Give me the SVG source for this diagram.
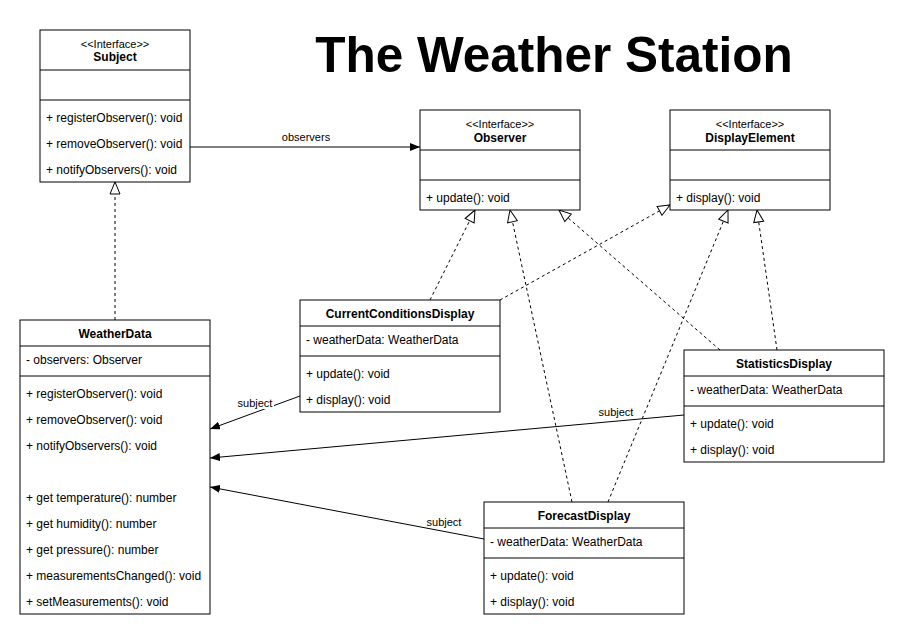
<svg xmlns="http://www.w3.org/2000/svg" width="905" height="638" viewBox="0 0 905 638">
  <style>
    .box { fill: #ffffff; stroke: #000000; stroke-width: 1; }
    .sep { stroke: #000000; stroke-width: 1; fill: none; }
    .t { font-family: "Liberation Sans", Arial, Helvetica, sans-serif; font-size: 12px; fill: #000000; }
    .st { font-family: "Liberation Sans", Arial, Helvetica, sans-serif; font-size: 11px; fill: #000000; text-anchor: middle; }
    .n { font-family: "Liberation Sans", Arial, Helvetica, sans-serif; font-size: 12px; font-weight: bold; fill: #000000; text-anchor: middle; }
    .lbl { font-family: "Liberation Sans", Arial, Helvetica, sans-serif; font-size: 11px; fill: #000000; text-anchor: middle; }
    .title { font-family: "Liberation Sans", Arial, Helvetica, sans-serif; font-size: 49.5px; font-weight: bold; fill: #000000; text-anchor: middle; }
    .assoc { stroke: #000000; stroke-width: 1; fill: none; marker-end: url(#arrow); }
    .real { stroke: #000000; stroke-width: 1; fill: none; stroke-dasharray: 3 3; marker-end: url(#hollow); }
  </style>
  <defs>
    <marker id="arrow" viewBox="0 0 10 8" refX="10" refY="4" markerWidth="10" markerHeight="8" orient="auto" markerUnits="userSpaceOnUse">
      <path d="M0,0 L10,4 L0,8 Z" fill="#000000" stroke="none"/>
    </marker>
    <marker id="hollow" viewBox="0 0 14 12" refX="13" refY="6" markerWidth="14" markerHeight="12" orient="auto" markerUnits="userSpaceOnUse">
      <path d="M1,1 L13,6 L1,11 Z" fill="#ffffff" stroke="#000000" stroke-width="1"/>
    </marker>
  </defs>

  <rect x="0" y="0" width="905" height="638" fill="#ffffff"/>

  <text class="title" x="554" y="72">The Weather Station</text>

  <g id="connectors">
    <path class="assoc" d="M190,147 L420,147"/>
    <text class="lbl" x="306" y="141">observers</text>

    <path class="real" d="M115,320 L115,182"/>

    <path class="real" d="M430,300 L475,210"/>
    <path class="real" d="M572,502 L510,210"/>
    <path class="real" d="M720,350 L559,210"/>
    <path class="real" d="M500,300 L670,205"/>
    <path class="real" d="M608,502 L728,210"/>
    <path class="real" d="M777,350 L757,210"/>

    <path class="assoc" d="M300,396 L210,429"/>
    <rect x="237" y="397" width="37" height="12" fill="#ffffff"/>
    <text class="lbl" x="255" y="407">subject</text>

    <path class="assoc" d="M684,415 L210,458"/>
    <text class="lbl" x="616" y="416">subject</text>

    <path class="assoc" d="M484,539 L210,487"/>
    <text class="lbl" x="444" y="526">subject</text>
  </g>

  <g id="Subject">
    <rect class="box" x="40" y="30" width="150" height="152"/>
    <line class="sep" x1="40" y1="70" x2="190" y2="70"/>
    <line class="sep" x1="40" y1="100" x2="190" y2="100"/>
    <text class="st" x="115" y="47.5">&lt;&lt;Interface&gt;&gt;</text>
    <text class="n" x="115" y="61">Subject</text>
    <text class="t" x="46" y="122">+ registerObserver(): void</text>
    <text class="t" x="46" y="148">+ removeObserver(): void</text>
    <text class="t" x="46" y="174">+ notifyObservers(): void</text>
  </g>

  <g id="Observer">
    <rect class="box" x="420" y="110" width="160" height="100"/>
    <line class="sep" x1="420" y1="150" x2="580" y2="150"/>
    <line class="sep" x1="420" y1="180" x2="580" y2="180"/>
    <text class="st" x="500" y="127.5">&lt;&lt;Interface&gt;&gt;</text>
    <text class="n" x="500" y="141.5">Observer</text>
    <text class="t" x="426" y="202">+ update(): void</text>
  </g>

  <g id="DisplayElement">
    <rect class="box" x="670" y="110" width="160" height="100"/>
    <line class="sep" x1="670" y1="150" x2="830" y2="150"/>
    <line class="sep" x1="670" y1="180" x2="830" y2="180"/>
    <text class="st" x="750" y="127.5">&lt;&lt;Interface&gt;&gt;</text>
    <text class="n" x="750" y="141.5">DisplayElement</text>
    <text class="t" x="676" y="202">+ display(): void</text>
  </g>

  <g id="WeatherData">
    <rect class="box" x="20" y="320" width="190" height="294"/>
    <line class="sep" x1="20" y1="346" x2="210" y2="346"/>
    <line class="sep" x1="20" y1="376" x2="210" y2="376"/>
    <text class="n" x="115" y="338">WeatherData</text>
    <text class="t" x="26" y="364">- observers: Observer</text>
    <text class="t" x="26" y="398">+ registerObserver(): void</text>
    <text class="t" x="26" y="424">+ removeObserver(): void</text>
    <text class="t" x="26" y="450">+ notifyObservers(): void</text>
    <text class="t" x="26" y="502">+ get temperature(): number</text>
    <text class="t" x="26" y="528">+ get humidity(): number</text>
    <text class="t" x="26" y="554">+ get pressure(): number</text>
    <text class="t" x="26" y="580">+ measurementsChanged(): void</text>
    <text class="t" x="26" y="606">+ setMeasurements(): void</text>
  </g>

  <g id="CurrentConditionsDisplay">
    <rect class="box" x="300" y="300" width="200" height="112"/>
    <line class="sep" x1="300" y1="326" x2="500" y2="326"/>
    <line class="sep" x1="300" y1="356" x2="500" y2="356"/>
    <text class="n" x="400" y="318">CurrentConditionsDisplay</text>
    <text class="t" x="306" y="344">- weatherData: WeatherData</text>
    <text class="t" x="306" y="378">+ update(): void</text>
    <text class="t" x="306" y="404">+ display(): void</text>
  </g>

  <g id="StatisticsDisplay">
    <rect class="box" x="684" y="350" width="200" height="112"/>
    <line class="sep" x1="684" y1="376" x2="884" y2="376"/>
    <line class="sep" x1="684" y1="406" x2="884" y2="406"/>
    <text class="n" x="784" y="368">StatisticsDisplay</text>
    <text class="t" x="690" y="394">- weatherData: WeatherData</text>
    <text class="t" x="690" y="428">+ update(): void</text>
    <text class="t" x="690" y="454">+ display(): void</text>
  </g>

  <g id="ForecastDisplay">
    <rect class="box" x="484" y="502" width="200" height="112"/>
    <line class="sep" x1="484" y1="528" x2="684" y2="528"/>
    <line class="sep" x1="484" y1="558" x2="684" y2="558"/>
    <text class="n" x="584" y="520">ForecastDisplay</text>
    <text class="t" x="490" y="546">- weatherData: WeatherData</text>
    <text class="t" x="490" y="580">+ update(): void</text>
    <text class="t" x="490" y="606">+ display(): void</text>
  </g>
</svg>
